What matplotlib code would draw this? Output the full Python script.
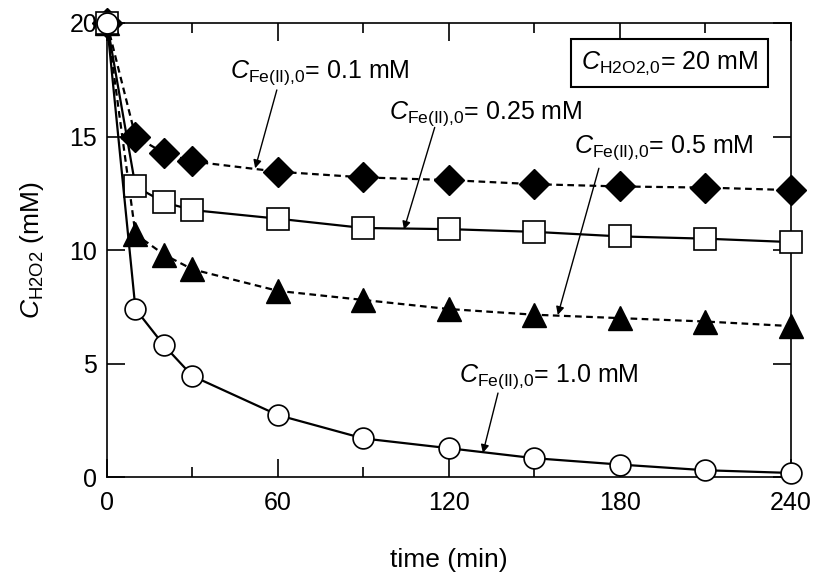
import numpy as np
import matplotlib
matplotlib.use("Agg")
import matplotlib.pyplot as plt

plt.rcParams['font.family'] = ['Liberation Sans', 'DejaVu Sans']
plt.rcParams['mathtext.fontset'] = 'custom'
plt.rcParams['mathtext.rm'] = 'Liberation Sans'
plt.rcParams['mathtext.it'] = 'Liberation Sans:italic'

# sampling times (min)
time = [0, 10, 20, 30, 60, 90, 120, 150, 180, 210, 240]

# H2O2 concentration (mM) for each initial Fe(II) dose
h2o2_fe010 = [20, 15.0, 14.27, 13.9, 13.45, 13.2, 13.08, 12.9, 12.8, 12.75, 12.64]
h2o2_fe025 = [20, 12.8, 12.1, 11.76, 11.38, 10.97, 10.92, 10.8, 10.6, 10.5, 10.35]
h2o2_fe050 = [20, 10.7, 9.8, 9.15, 8.2, 7.8, 7.4, 7.15, 7.0, 6.85, 6.65]
h2o2_fe100 = [20, 7.4, 5.8, 4.45, 2.73, 1.7, 1.27, 0.83, 0.55, 0.3, 0.18]

# label text position (baseline centre) and arrow tail/head, in data units
labels = ['0.1', '0.25', '0.5', '1.0']
label_xy = [(74.7, 17.58), (133, 15.8), (195.4, 14.27), (155, 4.19)]
arrow_tail = [(59.6, 17.05), (115, 15.4), (172.6, 13.6), (137.2, 3.7)]
arrow_head = [(52, 13.6), (104.2, 10.9), (158.2, 7.14), (131.9, 1.06)]

fig = plt.figure(figsize=(8.14, 5.72), dpi=100)
ax = fig.add_axes([0.1314, 0.166, 0.8403, 0.7938])

lw = 1.6
dash = (0, (3, 2))
ax.plot(time, h2o2_fe010, color='black', lw=lw, linestyle=dash, marker='D',
        markersize=15.5, markerfacecolor='black', clip_on=False, zorder=3)
ax.plot(time, h2o2_fe025, color='black', lw=lw, linestyle='-', marker='s',
        markersize=15.5, markerfacecolor='white', markeredgewidth=1.2,
        clip_on=False, zorder=4)
ax.plot(time, h2o2_fe050, color='black', lw=lw, linestyle=dash, marker='^',
        markersize=17, markerfacecolor='black', clip_on=False, zorder=3)
ax.plot(time, h2o2_fe100, color='black', lw=lw, linestyle='-', marker='o',
        markersize=15, markerfacecolor='white', markeredgewidth=1.2,
        clip_on=False, zorder=5)

ax.set_xlim(0, 240)
ax.set_ylim(0, 20)
ax.set_xticks(np.arange(0, 241, 60))
ax.set_xticks(np.arange(0, 241, 30), minor=True)
ax.set_yticks(np.arange(0, 21, 5))
ax.tick_params(which='both', direction='in', top=True, right=True,
               labelsize=18, width=1.2)
ax.tick_params(which='major', length=13)
ax.tick_params(which='minor', length=7)
ax.tick_params(axis='x', pad=10)
ax.tick_params(axis='y', pad=7)
for s in ax.spines.values():
    s.set_linewidth(1.2)

ax.set_xlabel('time (min)', fontsize=19, labelpad=24)
ax.set_ylabel(r'$\mathit{C}_{\mathrm{H2O2}}$ (mM)', fontsize=19, labelpad=17)

fe = r'$\mathit{C}_{\mathrm{Fe(II){,}0}}$'
arrow = dict(arrowstyle='-|>', color='black', lw=1.0, mutation_scale=12,
             shrinkA=0, shrinkB=0)
for lab, xy, tail, head in zip(labels, label_xy, arrow_tail, arrow_head):
    ax.text(xy[0], xy[1], fe + '= ' + lab + ' mM', fontsize=18,
            ha='center', va='baseline')
    ax.annotate('', xy=head, xytext=tail, arrowprops=arrow)

ax.text(197.5, 18.0, r'$\mathit{C}_{\mathrm{H2O2{,}0}}$= 20 mM',
        fontsize=18, ha='center', va='baseline',
        bbox=dict(boxstyle='square,pad=0.4', facecolor='white',
                  edgecolor='black', linewidth=1.5))

fig.savefig('out.png', dpi=100)
